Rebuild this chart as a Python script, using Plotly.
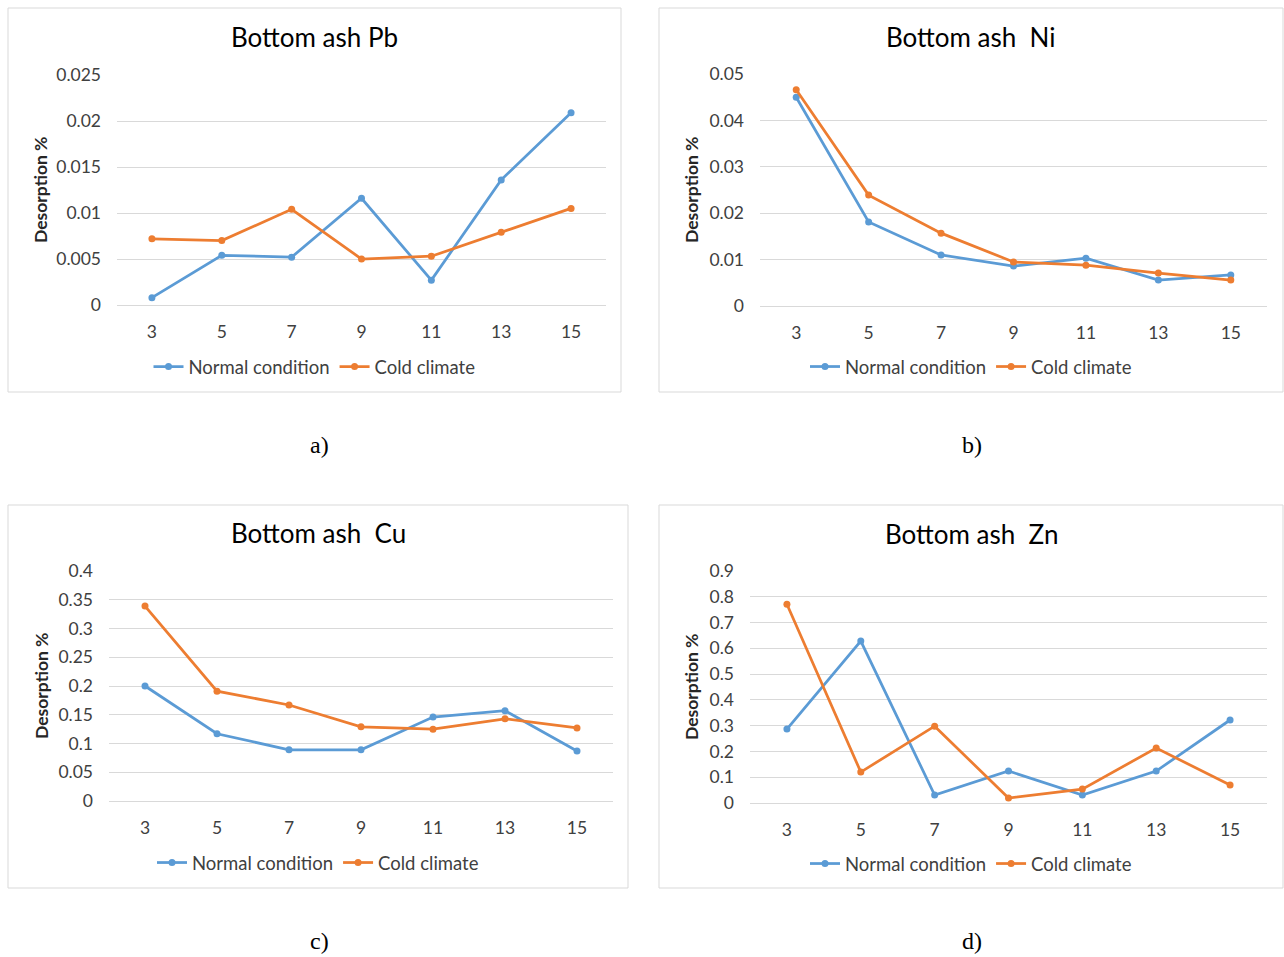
import plotly.graph_objects as go

W, H = 1284, 957

categories = ["3", "5", "7", "9", "11", "13", "15"]
series_names = ["Normal condition", "Cold climate"]

pb_normal = [0.0008, 0.0054, 0.0052, 0.0116, 0.0027, 0.0136, 0.0209]
pb_cold = [0.0072, 0.0070, 0.0104, 0.0050, 0.0053, 0.0079, 0.0105]

ni_normal = [0.0450, 0.0181, 0.0110, 0.0086, 0.0103, 0.0056, 0.0067]
ni_cold = [0.0466, 0.0239, 0.0157, 0.0095, 0.0088, 0.0071, 0.0056]

cu_normal = [0.200, 0.117, 0.089, 0.089, 0.146, 0.157, 0.087]
cu_cold = [0.339, 0.191, 0.167, 0.129, 0.125, 0.143, 0.127]

zn_normal = [0.287, 0.628, 0.031, 0.124, 0.031, 0.124, 0.322]
zn_cold = [0.771, 0.120, 0.298, 0.019, 0.054, 0.213, 0.070]

titles = ["Bottom ash Pb", "Bottom ash\u00a0 Ni", "Bottom ash\u00a0 Cu", "Bottom ash\u00a0 Zn"]
panel_labels = ["a)", "b)", "c)", "d)"]
y_title = "Desorption %"

y_ranges = [[0, 0.025], [0, 0.05], [0, 0.4], [0, 0.9]]
y_dticks = [0.005, 0.01, 0.05, 0.1]

BLUE = "#5B9BD5"
ORANGE = "#ED7D31"
GRID = "#D9D9D9"
TXT = "#404040"
FONT = "Lato"


def X(px):
    return px / W


def Y(py):
    return 1 - py / H


# pixel geometry of each panel
panels = [
    dict(frame=(8, 8, 621, 392), plot=(117, 75, 606, 305), title_y=37, legend_y=367, ytitle_x=40, label=(319, 445)),
    dict(frame=(659, 8, 1283, 392), plot=(760, 74, 1267, 306), title_y=37, legend_y=367, ytitle_x=691, label=(972, 445)),
    dict(frame=(8, 505, 628, 888), plot=(109, 571, 613, 801), title_y=533, legend_y=863, ytitle_x=41, label=(319, 941)),
    dict(frame=(659, 505, 1283, 888), plot=(750, 571, 1267, 803), title_y=534, legend_y=864, ytitle_x=691, label=(972, 941)),
]

data = [(pb_normal, pb_cold), (ni_normal, ni_cold), (cu_normal, cu_cold), (zn_normal, zn_cold)]

fig = go.Figure()
layout = dict(
    template="none",
    width=W, height=H, margin=dict(l=0, r=0, t=0, b=0, pad=0, autoexpand=False),
    paper_bgcolor="white", plot_bgcolor="white",
    font=dict(family=FONT, color=TXT, size=17),
    shapes=[], annotations=[],
)

for i, (p, (s1, s2)) in enumerate(zip(panels, data)):
    k = "" if i == 0 else str(i + 1)
    legend_name = "legend" + k
    for name, vals, col in [(series_names[0], s1, BLUE), (series_names[1], s2, ORANGE)]:
        fig.add_trace(go.Scatter(
            x=categories, y=vals, name=name, mode="lines+markers",
            line=dict(color=col, width=2.75),
            marker=dict(color=col, size=7),
            xaxis="x" + k, yaxis="y" + k, legend=legend_name,
            cliponaxis=False,
        ))
    x0, y0, x1, y1 = p["plot"]
    layout["xaxis" + k] = dict(
        domain=[X(x0), X(x1)], anchor="y" + k, type="category", automargin=False,
        range=[-0.5, len(categories) - 0.5],
        showgrid=False, showline=False, zeroline=False, ticks="",
        tickfont=dict(family=FONT, size=17.5, color=TXT), ticklabelstandoff=14,
    )
    layout["yaxis" + k] = dict(
        domain=[Y(y1), Y(y0)], anchor="x" + k, range=y_ranges[i], dtick=y_dticks[i],
        automargin=False,
        showgrid=True, gridcolor=GRID, gridwidth=1, zeroline=True, zerolinecolor=GRID,
        zerolinewidth=1, showline=False, ticks="",
        tickfont=dict(family=FONT, size=17.5, color=TXT), ticklabelstandoff=15,
    )
    fx0, fy0, fx1, fy1 = p["frame"]
    layout["shapes"].append(dict(
        type="rect", xref="paper", yref="paper",
        x0=X(fx0), x1=X(fx1), y0=Y(fy1), y1=Y(fy0),
        line=dict(color=GRID, width=1), fillcolor="rgba(0,0,0,0)", layer="below",
    ))
    cx = (fx0 + fx1) / 2
    layout["annotations"].append(dict(
        text=titles[i], x=X(cx), y=Y(p["title_y"]), xref="paper", yref="paper",
        xanchor="center", yanchor="middle", showarrow=False,
        font=dict(family=FONT, size=26, color="#000000"),
    ))
    layout["annotations"].append(dict(
        text="<b>" + y_title + "</b>", x=X(p["ytitle_x"]), y=Y((y0 + y1) / 2),
        xref="paper", yref="paper", xanchor="center", yanchor="middle",
        textangle=-90, showarrow=False,
        font=dict(family=FONT, size=17.5, color="#262626"),
    ))
    lx, ly = p["label"]
    layout["annotations"].append(dict(
        text=panel_labels[i], x=X(lx), y=Y(ly), xref="paper", yref="paper",
        xanchor="center", yanchor="middle", showarrow=False,
        font=dict(family="Liberation Serif", size=24, color="#000000"),
    ))
    layout[legend_name] = dict(
        orientation="h", x=X(cx), y=Y(p["legend_y"]), xanchor="center", yanchor="middle",
        xref="paper", yref="paper", bgcolor="rgba(0,0,0,0)",
        font=dict(family=FONT, size=18.5, color=TXT), itemwidth=30,
        tracegroupgap=0,
    )

fig.update_layout(**layout)
fig.write_html(
    "out.html",
    config={"displayModeBar": False},
    post_script=(
        "document.body.style.margin='0';document.body.style.overflow='hidden';"
        "var gd=document.getElementById('{plot_id}');"
        "gd.style.position='fixed';gd.style.top='0px';gd.style.left='0px';"
    ),
)
